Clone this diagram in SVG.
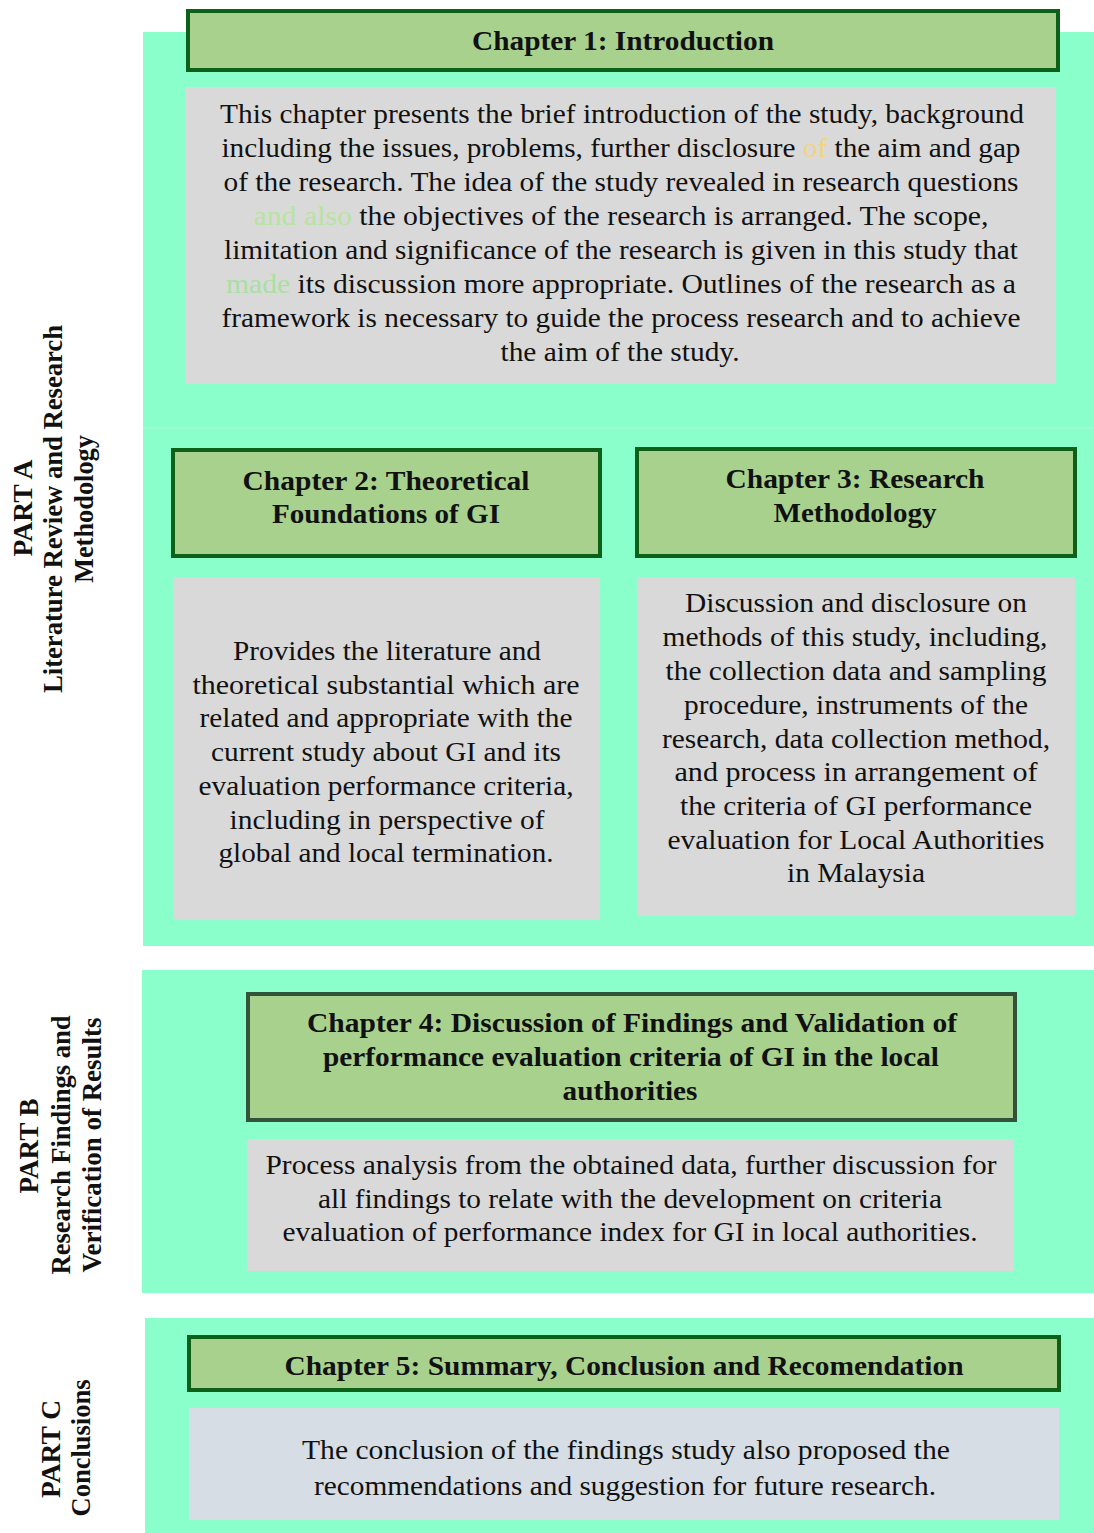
<svg xmlns="http://www.w3.org/2000/svg" width="1094" height="1533" viewBox="0 0 1094 1533">
<style>
.part{fill:#8afecb}
.hdr{fill:#a9d18e;stroke:#0c6018;stroke-width:4}
.hdr4{fill:#a9d18e;stroke:#33523a;stroke-width:4}
.box{fill:#d9d9d9}
.box5{fill:#d6dde4}
.ht{font-family:"Liberation Serif","Times New Roman",serif;font-weight:bold;font-size:27px;fill:#111;text-anchor:middle}
.bt{font-family:"Liberation Serif","Times New Roman",serif;font-size:27px;fill:#111;text-anchor:middle}
.lbl{font-family:"Liberation Serif","Times New Roman",serif;font-weight:bold;font-size:27px;fill:#111;text-anchor:middle}
</style>
<rect width="1094" height="1533" fill="#ffffff"/>
<g id="partA">
<rect class="part" x="143" y="32" width="951" height="914"/>
<line x1="143" y1="428" x2="1094" y2="428" stroke="#9dffd6" stroke-width="2"/>
<text class="lbl" transform="translate(32,508) rotate(-90)" textLength="97" lengthAdjust="spacingAndGlyphs">PART A</text>
<text class="lbl" transform="translate(62,509) rotate(-90)" textLength="368" lengthAdjust="spacingAndGlyphs">Literature Review and Research</text>
<text class="lbl" transform="translate(93,509) rotate(-90)" textLength="148" lengthAdjust="spacingAndGlyphs">Methodology</text>
</g>
<g id="partB">
<rect class="part" x="142" y="970" width="952" height="323"/>
<text class="lbl" transform="translate(38,1146) rotate(-90)" textLength="95" lengthAdjust="spacingAndGlyphs">PART B</text>
<text class="lbl" transform="translate(70,1145) rotate(-90)" textLength="259" lengthAdjust="spacingAndGlyphs">Research Findings and</text>
<text class="lbl" transform="translate(101,1145) rotate(-90)" textLength="255" lengthAdjust="spacingAndGlyphs">Verification of Results</text>
</g>
<g id="partC">
<rect class="part" x="145" y="1318" width="949" height="215"/>
<text class="lbl" transform="translate(60,1449) rotate(-90)" textLength="98" lengthAdjust="spacingAndGlyphs">PART C</text>
<text class="lbl" transform="translate(90,1448) rotate(-90)" textLength="137" lengthAdjust="spacingAndGlyphs">Conclusions</text>
</g>
<g id="connectors"></g>
<g id="ch1">
<rect class="hdr" x="188" y="11" width="870" height="59"/>
<text class="ht" x="623" y="50" textLength="302" lengthAdjust="spacingAndGlyphs">Chapter 1: Introduction</text>
</g>
<g id="ch1text">
<rect class="box" x="185" y="87" width="871" height="297"/>
<text class="bt" x="622" y="123" textLength="804" lengthAdjust="spacingAndGlyphs">This chapter presents the brief introduction of the study, background</text>
<text class="bt" x="621" y="157" textLength="799" lengthAdjust="spacingAndGlyphs">including the issues, problems, further disclosure <tspan fill="#f3d37e">of</tspan> the aim and gap</text>
<text class="bt" x="621" y="191" textLength="795" lengthAdjust="spacingAndGlyphs">of the research. The idea of the study revealed in research questions</text>
<text class="bt" x="621" y="225" textLength="735" lengthAdjust="spacingAndGlyphs"><tspan fill="#b6e4a0">and also</tspan> the objectives of the research is arranged.  The scope,</text>
<text class="bt" x="621" y="259" textLength="794" lengthAdjust="spacingAndGlyphs">limitation and significance of the research is given in this study that</text>
<text class="bt" x="621" y="293" textLength="790" lengthAdjust="spacingAndGlyphs"><tspan fill="#a8e0a0">made</tspan> its discussion more appropriate.  Outlines of the research as a</text>
<text class="bt" x="621" y="327" textLength="799" lengthAdjust="spacingAndGlyphs">framework is necessary to guide the process research and to achieve</text>
<text class="bt" x="620" y="361" textLength="239" lengthAdjust="spacingAndGlyphs">the aim of the study.</text>
</g>
<g id="ch2">
<rect class="hdr" x="173" y="450" width="427" height="106"/>
<text class="ht" x="386" y="490" textLength="287" lengthAdjust="spacingAndGlyphs">Chapter 2: Theoretical</text>
<text class="ht" x="386" y="523" textLength="228" lengthAdjust="spacingAndGlyphs">Foundations of GI</text>
</g>
<g id="ch2text">
<rect class="box" x="173" y="577" width="427" height="343"/>
<text class="bt" x="387" y="660" textLength="308" lengthAdjust="spacingAndGlyphs">Provides the literature and</text>
<text class="bt" x="386" y="694" textLength="387" lengthAdjust="spacingAndGlyphs">theoretical substantial which  are</text>
<text class="bt" x="386" y="727" textLength="373" lengthAdjust="spacingAndGlyphs">related and appropriate with the</text>
<text class="bt" x="386" y="761" textLength="350" lengthAdjust="spacingAndGlyphs">current study about GI and its</text>
<text class="bt" x="386" y="795" textLength="375" lengthAdjust="spacingAndGlyphs">evaluation performance criteria,</text>
<text class="bt" x="387" y="829" textLength="315" lengthAdjust="spacingAndGlyphs">including in perspective of</text>
<text class="bt" x="386" y="862" textLength="335" lengthAdjust="spacingAndGlyphs">global and local termination.</text>
</g>
<g id="ch3">
<rect class="hdr" x="637" y="449" width="438" height="107"/>
<text class="ht" x="855" y="488" textLength="259" lengthAdjust="spacingAndGlyphs">Chapter 3: Research</text>
<text class="ht" x="855" y="522" textLength="163" lengthAdjust="spacingAndGlyphs">Methodology</text>
</g>
<g id="ch3text">
<rect class="box" x="637" y="577" width="438" height="339"/>
<text class="bt" x="856" y="612" textLength="342" lengthAdjust="spacingAndGlyphs">Discussion and disclosure on</text>
<text class="bt" x="855" y="646" textLength="385" lengthAdjust="spacingAndGlyphs">methods of this study, including,</text>
<text class="bt" x="856" y="680" textLength="381" lengthAdjust="spacingAndGlyphs">the collection data and sampling</text>
<text class="bt" x="856" y="714" textLength="344" lengthAdjust="spacingAndGlyphs">procedure, instruments of the</text>
<text class="bt" x="856" y="748" textLength="388" lengthAdjust="spacingAndGlyphs">research, data collection method,</text>
<text class="bt" x="856" y="781" textLength="363" lengthAdjust="spacingAndGlyphs">and process  in arrangement of</text>
<text class="bt" x="856" y="815" textLength="352" lengthAdjust="spacingAndGlyphs">the criteria of GI performance</text>
<text class="bt" x="856" y="849" textLength="377" lengthAdjust="spacingAndGlyphs">evaluation for Local Authorities</text>
<text class="bt" x="856" y="882" textLength="138" lengthAdjust="spacingAndGlyphs">in Malaysia</text>
</g>
<g id="ch4">
<rect class="hdr4" x="248" y="994" width="767" height="126"/>
<text class="ht" x="632" y="1032" textLength="650" lengthAdjust="spacingAndGlyphs">Chapter 4: Discussion of Findings and Validation of</text>
<text class="ht" x="631" y="1066" textLength="616" lengthAdjust="spacingAndGlyphs">performance evaluation criteria of GI in the local</text>
<text class="ht" x="630" y="1100" textLength="135" lengthAdjust="spacingAndGlyphs">authorities</text>
</g>
<g id="ch4text">
<rect class="box" x="247" y="1139" width="767" height="132"/>
<text class="bt" x="631" y="1174" textLength="731" lengthAdjust="spacingAndGlyphs">Process analysis from the obtained data, further discussion for</text>
<text class="bt" x="630" y="1208" textLength="624" lengthAdjust="spacingAndGlyphs">all findings to relate with the development on criteria</text>
<text class="bt" x="630" y="1241" textLength="695" lengthAdjust="spacingAndGlyphs">evaluation of performance index for GI in local authorities.</text>
</g>
<g id="ch5">
<rect class="hdr" x="189" y="1337" width="870" height="53"/>
<text class="ht" x="624" y="1375" textLength="679" lengthAdjust="spacingAndGlyphs">Chapter 5: Summary, Conclusion and Recomendation</text>
</g>
<g id="ch5text">
<rect class="box5" x="189" y="1408" width="870" height="112"/>
<text class="bt" x="626" y="1459" textLength="648" lengthAdjust="spacingAndGlyphs">The conclusion of the findings  study also proposed the</text>
<text class="bt" x="625" y="1495" textLength="622" lengthAdjust="spacingAndGlyphs">recommendations and suggestion for future research.</text>
</g>
</svg>
